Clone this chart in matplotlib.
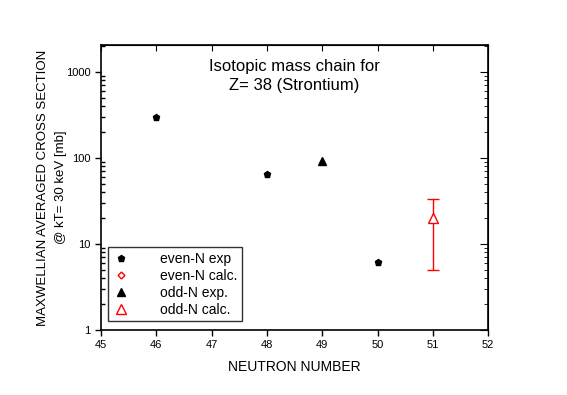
import matplotlib.pyplot as plt
import matplotlib.ticker as mticker

plt.rcParams['font.family'] = ['Liberation Sans', 'DejaVu Sans']

# data
even_exp_n = [46, 48, 50]
even_exp_sigma = [300, 65, 6.2]

even_calc_n = []
even_calc_sigma = []

odd_exp_n = [49]
odd_exp_sigma = [93]

odd_calc_n = [51]
odd_calc_sigma = [20]
odd_calc_err_lo = [15]   # down to ~5
odd_calc_err_hi = [13]   # up to ~33

fig = plt.figure(figsize=(5.67, 3.95), dpi=100)
ax = fig.add_axes([0.178, 0.1646, 0.683, 0.7215])

ax.plot(even_exp_n, even_exp_sigma, 'p', color='black', ms=5, ls='none', label='even-N exp')
ax.plot(even_calc_n, even_calc_sigma, 'D', mfc='none', mec='red', ms=3.5, ls='none', label='even-N calc.')
ax.plot(odd_exp_n, odd_exp_sigma, '^', color='black', ms=6, ls='none', label='odd-N exp.')
ax.errorbar(odd_calc_n, odd_calc_sigma, yerr=[odd_calc_err_lo, odd_calc_err_hi],
            fmt='none', ecolor='red', capsize=4, elinewidth=1, capthick=1)
ax.plot(odd_calc_n, odd_calc_sigma, '^', mfc='white', mec='red', ms=7, ls='none', label='odd-N calc.')

ax.set_yscale('log')
ax.set_xlim(45, 52)
ax.set_ylim(1, 2050)
ax.xaxis.set_major_locator(mticker.MultipleLocator(1))
ax.yaxis.set_major_formatter(mticker.FuncFormatter(lambda v, p: '%g' % v))
ax.yaxis.set_minor_formatter(mticker.NullFormatter())

ax.tick_params(axis='both', which='major', direction='out', length=4, labelsize=8, width=1)
ax.tick_params(axis='y', which='minor', direction='in', length=3, width=1)
# top and right ticks pointing inward
ax2 = ax.secondary_xaxis('top')
ax2.xaxis.set_major_locator(mticker.MultipleLocator(1))
ax2.tick_params(direction='in', length=4, labeltop=False)
ax3 = ax.secondary_yaxis('right')
ax3.tick_params(which='both', direction='in', labelright=False)
ax3.tick_params(which='major', length=6)
ax3.tick_params(which='minor', length=3)

for s in ax.spines.values():
    s.set_linewidth(1.2)

ax.set_xlabel('NEUTRON NUMBER', fontsize=10, labelpad=7)
ax.set_ylabel('MAXWELLIAN AVERAGED CROSS SECTION\n@ kT= 30 keV [mb]', fontsize=9.5,
              labelpad=-1, linespacing=1.75)

ax.text(0.5, 0.95, 'Isotopic mass chain for\nZ= 38 (Strontium)', transform=ax.transAxes,
        ha='center', va='top', fontsize=12, linespacing=1.35)

leg = ax.legend(loc='lower left', bbox_to_anchor=(0.018, 0.03), fontsize=10,
                frameon=True, fancybox=False, edgecolor='black', handlelength=1.2,
                borderpad=0.35, labelspacing=0.2, handletextpad=2.2, borderaxespad=0)
leg.get_frame().set_linewidth(1)

fig.savefig('out.png', dpi=100)
